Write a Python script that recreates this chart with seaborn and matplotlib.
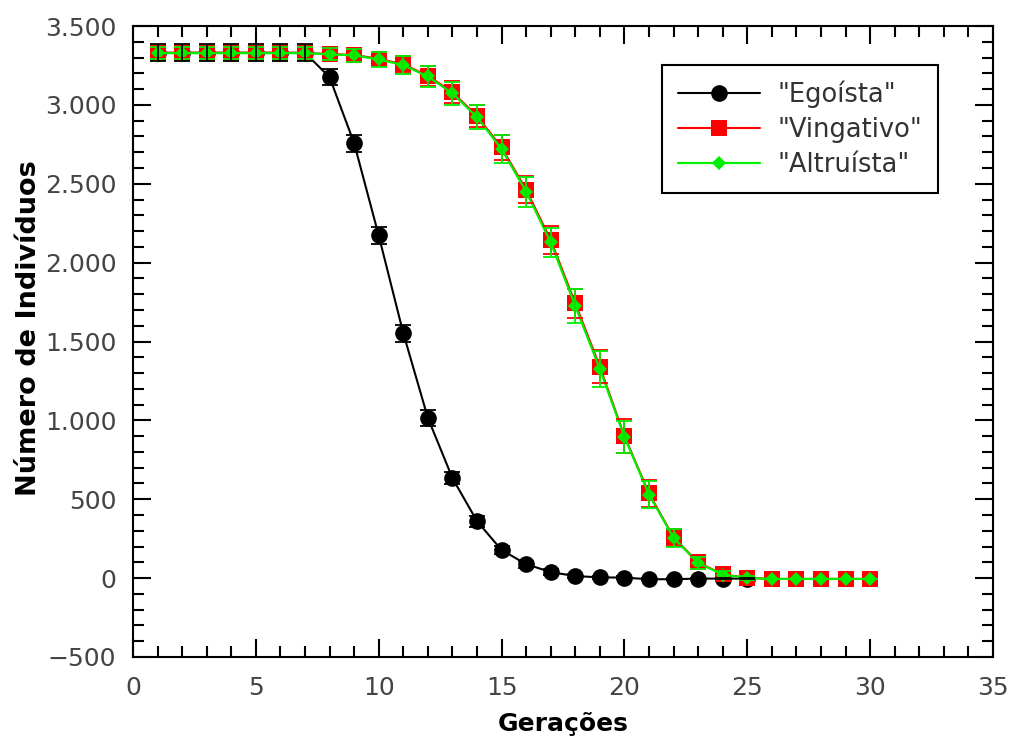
import matplotlib
matplotlib.use("Agg")
import matplotlib.pyplot as plt
from matplotlib.ticker import MultipleLocator, FuncFormatter
import pandas as pd
import seaborn as sns

# Generations
geracoes = list(range(1, 31))
geracoes_egoista = list(range(1, 26))

# Mean population per generation and its error
egoista = [3330, 3330, 3331, 3330, 3331, 3330, 3330, 3175, 2757, 2172,
           1553, 1016, 634, 361, 178, 89, 38, 13, 5, 3,
           -7, -7, -3, -3, -3]
egoista_err = [55, 55, 55, 55, 55, 55, 55, 50, 55, 53,
               53, 50, 40, 35, 28, 22, 18, 14, 10, 8,
               6, 6, 5, 5, 4]

vingativo = [3330, 3330, 3330, 3330, 3330, 3330, 3330, 3322, 3317, 3292,
             3257, 3185, 3080, 2930, 2730, 2462, 2143, 1742, 1340, 901,
             537, 259, 100, 24, 2, -5, -5, -5, -5, -5]
vingativo_err = [35, 35, 35, 35, 35, 35, 35, 35, 40, 45,
                 55, 63, 69, 70, 81, 85, 88, 93, 103, 108,
                 85, 55, 38, 25, 12, 0, 0, 0, 0, 0]

altruista = [3328, 3328, 3328, 3328, 3328, 3328, 3328, 3320, 3314, 3288,
             3252, 3180, 3073, 2922, 2720, 2450, 2128, 1725, 1325, 895,
             530, 255, 96, 22, 1, -5, -5, -5, -5, -5]
altruista_err = [38, 38, 38, 38, 38, 38, 38, 38, 42, 48,
                 58, 66, 73, 75, 88, 95, 90, 106, 116, 102,
                 88, 58, 40, 26, 12, 0, 0, 0, 0, 0]

sns.set_theme(style="ticks")
plt.rcParams["font.family"] = ["DejaVu Sans"]

fig = plt.figure(figsize=(10.1, 7.4), dpi=100)
ax = fig.add_axes([133 / 1010, 1 - 657 / 740, (993 - 133) / 1010, (657 - 26) / 740])

series = [
    ('"Egoísta"', geracoes_egoista, egoista, egoista_err, "#000000", "o", 12, 1.5, 2, 7),
    ('"Vingativo"', geracoes, vingativo, vingativo_err, "#ff0000", "s", 11.5, 1.5, 3, 5),
    ('"Altruísta"', geracoes, altruista, altruista_err, "#00f000", "D", 7, 1.6, 4, 6),
]

for label, xs, ys, errs, color, marker, ms, lw, z_line, z_err in series:
    df = pd.DataFrame({"x": xs, "y": ys})
    sns.lineplot(data=df, x="x", y="y", ax=ax, color=color, marker=marker,
                 markersize=ms, markeredgewidth=0, markeredgecolor=color,
                 linewidth=lw, label=label, zorder=z_line)
    ax.errorbar(xs, ys, yerr=errs, fmt="none", ecolor=color, elinewidth=1.3,
                capsize=6, capthick=1.3, zorder=z_err)

ax.set_xlim(0, 35)
ax.set_ylim(-500, 3500)
ax.xaxis.set_major_locator(MultipleLocator(5))
ax.xaxis.set_minor_locator(MultipleLocator(1))
ax.yaxis.set_major_locator(MultipleLocator(500))
ax.yaxis.set_minor_locator(MultipleLocator(100))


def milhar(v, pos):
    return f"{int(round(v)):,}".replace(",", ".").replace("-", "\u2212")


ax.yaxis.set_major_formatter(FuncFormatter(milhar))

ax.tick_params(which="both", direction="in", top=True, right=True,
               width=1.5, color="black")
ax.tick_params(which="major", length=13, labelsize=18, labelcolor="#444444")
ax.tick_params(which="minor", length=8)
ax.tick_params(axis="x", which="major", pad=14)
ax.tick_params(axis="y", which="major", pad=12)

for sp in ax.spines.values():
    sp.set_linewidth(1.5)
    sp.set_color("black")

ax.set_xlabel("Gerações", fontsize=18, fontweight="bold", color="black", labelpad=8)
ax.set_ylabel("Número de Indivíduos", fontsize=19.5, fontweight="bold", color="black")
ax.yaxis.set_label_coords(-0.106, 0.521)

leg = ax.legend(loc="upper right", bbox_to_anchor=(0.936, 0.938), borderaxespad=0,
                frameon=True, fancybox=False, edgecolor="black", framealpha=1,
                fontsize=18.5, handlelength=3.2, handletextpad=0.7,
                labelspacing=0.35, borderpad=0.6, labelcolor="#333333")
leg.get_frame().set_linewidth(1.5)

fig.savefig("out.png", dpi=100)
